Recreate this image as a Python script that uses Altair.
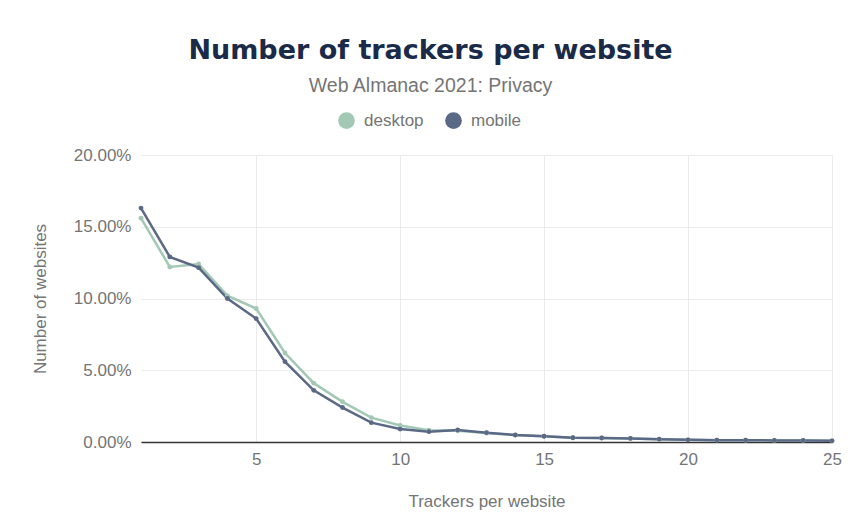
import altair as alt
import pandas as pd

trackers = list(range(1, 26))
desktop = [15.6, 12.2, 12.4, 10.2, 9.3, 6.2, 4.1, 2.8, 1.7, 1.15,
           0.82, 0.78, 0.63, 0.48, 0.4, 0.3, 0.28, 0.25, 0.2, 0.15,
           0.13, 0.12, 0.11, 0.1, 0.08]
mobile = [16.3, 12.9, 12.15, 10.0, 8.6, 5.6, 3.6, 2.4, 1.35, 0.9,
          0.72, 0.84, 0.65, 0.49, 0.4, 0.3, 0.28, 0.25, 0.2, 0.15,
          0.13, 0.12, 0.11, 0.1, 0.08]
clients = ["desktop", "mobile"]
colors = ["#a3c9b6", "#5b6886"]

rows = []
for i, t in enumerate(trackers):
    rows.append({"trackers": t, "client": "desktop", "pct": desktop[i] / 100})
    rows.append({"trackers": t, "client": "mobile", "pct": mobile[i] / 100})
df = pd.DataFrame(rows)

font = "Liberation Sans"
grey = "#757575"

x = alt.X("trackers:Q", title="Trackers per website",
          scale=alt.Scale(domain=[1, 25], nice=False, zero=False),
          axis=alt.Axis(values=[5, 10, 15, 20, 25], tickSize=0, labelPadding=9,
                        labelFlush=False, titlePadding=26, domainColor="#333333",
                        domainWidth=1.5, gridColor="#ebebeb"))
y = alt.Y("pct:Q", title="Number of websites",
          scale=alt.Scale(domain=[0, 0.2], nice=False),
          axis=alt.Axis(format=".2%", values=[0, 0.05, 0.1, 0.15, 0.2], tickSize=0,
                        domain=False, labelPadding=10, titlePadding=24,
                        gridColor="#ebebeb"))
color = alt.Color("client:N", scale=alt.Scale(domain=clients, range=colors),
                  legend=alt.Legend(title=None, orient="none", direction="horizontal",
                                    legendX=197, legendY=-43, symbolType="circle",
                                    symbolSize=280, symbolStrokeWidth=0,
                                    labelFontSize=17, labelColor=grey, labelFont=font,
                                    columnPadding=21, labelOffset=9))

base = alt.Chart(df).encode(x=x, y=y, color=color,
                            order=alt.Order("client:N"))
lines = base.mark_line(strokeWidth=2.5)
points = base.mark_circle(size=24, opacity=1)

chart = alt.layer(lines, points).properties(
    width=691, height=287,
    autosize=alt.AutoSizeParams(type="none"),
    padding={"left": 133, "top": 147, "right": 20, "bottom": 81},
    title=alt.TitleParams(
        text="Number of trackers per website",
        subtitle="Web Almanac 2021: Privacy",
        anchor="middle", frame="group", dx=-56, offset=16,
        font="DejaVu Sans", fontWeight="bold", fontSize=27, color="#1a2b49",
        subtitleFont=font, subtitleFontSize=19.5, subtitleColor=grey,
        subtitlePadding=12),
).configure_view(stroke=None).configure_axis(
    labelFont=font, labelFontSize=17, labelColor=grey,
    titleFont=font, titleFontSize=17, titleColor=grey, titleFontWeight="normal",
)

chart.save("out.html", embed_options={"renderer": "svg", "actions": False})
